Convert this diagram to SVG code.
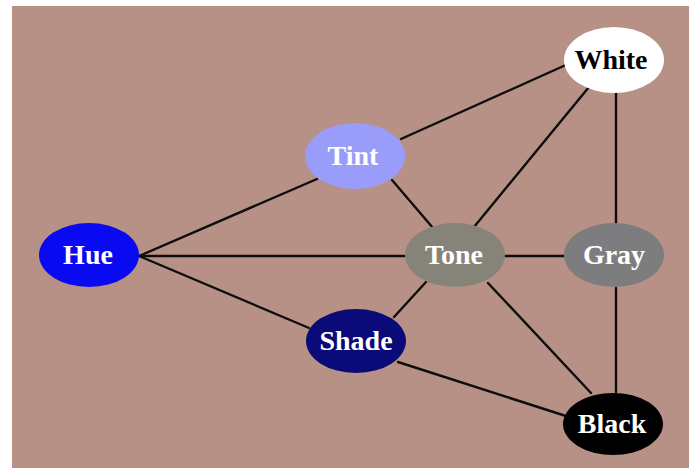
<svg xmlns="http://www.w3.org/2000/svg" width="692" height="473" viewBox="0 0 692 473">
  <style>
    .edge { stroke: #0d0d0d; stroke-width: 2.4; fill: none; stroke-linecap: round; }
    .label { font-family: "Liberation Serif", "Times New Roman", serif; font-weight: bold; font-size: 28px; text-anchor: middle; fill: #ffffff; }
    .dark { fill: #000000; }
  </style>
  <rect x="0" y="0" width="692" height="473" fill="#ffffff"/>
  <rect x="12" y="6" width="677" height="462" fill="#b79185"/>

  <g id="connectors">
    <line class="edge" x1="139" y1="256" x2="317" y2="179"/>
    <line class="edge" x1="139" y1="256" x2="407" y2="256"/>
    <line class="edge" x1="139" y1="256" x2="309" y2="328"/>
    <line class="edge" x1="401" y1="139" x2="568" y2="64"/>
    <line class="edge" x1="392" y1="180" x2="433" y2="228"/>
    <line class="edge" x1="589" y1="87" x2="474" y2="227"/>
    <line class="edge" x1="616" y1="92" x2="616" y2="223"/>
    <line class="edge" x1="505" y1="256" x2="566" y2="256"/>
    <line class="edge" x1="426" y1="282" x2="394" y2="317"/>
    <line class="edge" x1="488" y1="283" x2="591" y2="393"/>
    <line class="edge" x1="616" y1="288" x2="616" y2="392"/>
    <line class="edge" x1="398" y1="362" x2="569" y2="417"/>
  </g>

  <g id="white">
    <ellipse cx="614" cy="60" rx="50" ry="33" fill="#ffffff"/>
    <text class="label dark" x="611" y="69">White</text>
  </g>
  <g id="tint">
    <ellipse cx="355" cy="156" rx="50" ry="33" fill="#9a9cfa"/>
    <text class="label" x="353" y="165">Tint</text>
  </g>
  <g id="hue">
    <ellipse cx="89" cy="255" rx="50" ry="32" fill="#0a0af2"/>
    <text class="label" x="88" y="264">Hue</text>
  </g>
  <g id="tone">
    <ellipse cx="455" cy="255" rx="50" ry="32" fill="#868478"/>
    <text class="label" x="454" y="264">Tone</text>
  </g>
  <g id="gray">
    <ellipse cx="614" cy="255" rx="50" ry="32" fill="#7d7d80"/>
    <text class="label" x="614" y="264">Gray</text>
  </g>
  <g id="shade">
    <ellipse cx="356" cy="341" rx="50" ry="32" fill="#0a0a78"/>
    <text class="label" x="356" y="350">Shade</text>
  </g>
  <g id="black">
    <ellipse cx="613" cy="424" rx="50" ry="31" fill="#000000"/>
    <text class="label" x="612" y="433">Black</text>
  </g>
</svg>
